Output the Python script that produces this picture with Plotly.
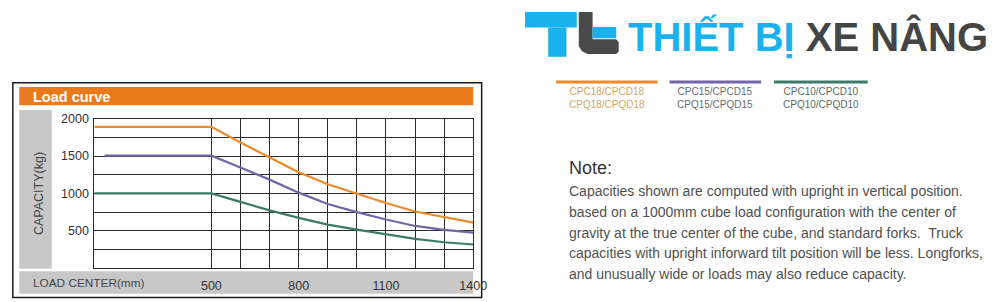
import plotly.graph_objects as go

W, H = 999, 302

# ---------------- data ----------------
load_center_mm = [98, 500, 600, 700, 800, 900, 1000, 1100, 1200, 1300, 1400]
cap_cpcd18 = [1890, 1890, 1680, 1477, 1282, 1122, 997, 871, 758, 682, 609]
load_center_15 = [133, 500, 600, 700, 800, 900, 1000, 1100, 1200, 1300, 1400]
cap_cpcd15 = [1505, 1505, 1346, 1184, 1010, 858, 749, 650, 564, 512, 476]
cap_cpcd10 = [1000, 1000, 887, 772, 672, 582, 516, 452, 390, 346, 316]

series_names = ["CPC18/CPCD18<br>CPQ18/CPQD18",
                "CPC15/CPCD15<br>CPQ15/CPQD15",
                "CPC10/CPCD10<br>CPQ10/CPQD10"]
series_colors = ["#EE8A2A", "#7464A8", "#3C7A69"]
legend_text_colors = ["#D6A566", "#6A6A78", "#5A6A66"]

x_grid = [500, 600, 700, 800, 900, 1000, 1100, 1200, 1300, 1400]
x_labels = ["500", "", "", "800", "", "", "1100", "", "", "1400"]
y_grid = [250, 500, 750, 1000, 1250, 1500, 1750, 2000]
y_labels = ["", "500", "", "1000", "", "1500", "", "2000"]

note_title = "Note:"
note_lines = [
    "Capacities shown are computed with upright in vertical position.",
    "based on a 1000mm cube load configuration with the center of",
    "gravity at the true center of the cube, and standard forks.  Truck",
    "capacities with upright inforward tilt position will be less. Longforks,",
    "and unusually wide or loads may also reduce capacity.",
]

FONT = "Liberation Sans"


def px(x):
    return x / W


def py(y):
    return 1 - y / H


fig = go.Figure()
xs = [load_center_mm, load_center_15, load_center_mm]
ys = [cap_cpcd18, cap_cpcd15, cap_cpcd10]
for xv, yv, c, n in zip(xs, ys, series_colors, series_names):
    fig.add_trace(go.Scatter(x=xv, y=yv, mode="lines", line=dict(color=c, width=2.2),
                             name=n, showlegend=False, hoverinfo="skip"))

shapes = []
annotations = []


def rect(x0, y0, x1, y1, fill=None, line=None, lw=0, layer="below"):
    shapes.append(dict(type="rect", xref="paper", yref="paper",
                       x0=px(x0), x1=px(x1), y0=py(y1), y1=py(y0),
                       fillcolor=fill if fill else "rgba(0,0,0,0)",
                       line=dict(color=line if line else "rgba(0,0,0,0)", width=lw),
                       layer=layer))


def poly(points, fill):
    d = "M " + " L ".join(f"{px(x):.5f},{py(y):.5f}" for x, y in points) + " Z"
    shapes.append(dict(type="path", xref="paper", yref="paper", path=d,
                       fillcolor=fill, line=dict(width=0), layer="below"))


def text(x, y, s, size, color, xanchor="left", bold=False, angle=0, family=FONT):
    if bold:
        s = "<b>" + s + "</b>"
    annotations.append(dict(xref="paper", yref="paper", x=px(x), y=py(y), text=s,
                            showarrow=False, xanchor=xanchor, yanchor="middle",
                            textangle=angle, font=dict(size=size, color=color, family=family),
                            align="center"))


# chart panel decorations
rect(13, 77.5, 488.5, 297.5, line="#1a1a1a", lw=1.5)
rect(19.5, 82, 480, 100.5, fill="#E97B1C")
rect(19.5, 105.5, 52.5, 268, fill="#C8C8C8")
rect(19.5, 270.5, 480, 293.5, fill="#C8C8C8")

text(31, 92, "Load curve", 14.5, "#FFFFFF", bold=True)
text(39, 191, "CAPACITY(kg)", 12.5, "#444444", xanchor="center", angle=-90)
text(31, 282.5, "LOAD CENTER(mm)", 11.8, "#444444")

# logo
rect(532.5, 5, 585, 21, fill="#1AB2EE")
rect(556, 21, 574.5, 51, fill="#1AB2EE")
poly([(587, 5), (601, 5), (601, 33), (625, 33), (627.5, 36), (627.5, 45.5), (625, 48),
      (596, 48), (590, 45), (587, 40)], "#4A4A4A")
rect(601, 20.5, 625, 32, fill="#1AB2EE")
text(635, 30.5, "<span style='color:#1AB2EE'>THIẾT BỊ</span> <span style='color:#454545'>XE NÂNG</span>",
     40, "#454545", bold=True)

# legend
legend_x = [(564, 667), (679, 772), (785, 880)]
for (x0, x1), c, tc, n in zip(legend_x, series_colors, legend_text_colors, series_names):
    shapes.append(dict(type="line", xref="paper", yref="paper", x0=px(x0), x1=px(x1),
                       y0=py(76.7), y1=py(76.7), line=dict(color=c, width=3)))
    annotations.append(dict(xref="paper", yref="paper", x=px((x0 + x1) / 2), y=py(93.5),
                            text=n, showarrow=False, xanchor="center", yanchor="middle",
                            align="center", font=dict(size=10, color=tc, family=FONT)))

# note
text(575, 165, note_title, 18, "#333333")
for i, line in enumerate(note_lines):
    text(575, 188.5 + 21.2 * i, line, 14, "#505050")

fig.update_layout(
    width=W, height=H, margin=dict(l=0, r=0, t=0, b=0),
    paper_bgcolor="white", plot_bgcolor="white",
    shapes=shapes, annotations=annotations,
    xaxis=dict(domain=[px(95.7), px(480)], range=[98, 1400],
               tickvals=x_grid, ticktext=x_labels, showgrid=True, gridcolor="#2a2a2a",
               gridwidth=1, showline=True, linecolor="#2a2a2a", linewidth=1, mirror=True,
               ticks="", ticklabelstandoff=6, zeroline=False,
               tickfont=dict(size=12.5, color="#333333", family=FONT)),
    yaxis=dict(domain=[py(267.3), py(114.3)], range=[0, 2000],
               tickvals=y_grid, ticktext=y_labels, showgrid=True, gridcolor="#2a2a2a",
               gridwidth=1, showline=True, linecolor="#2a2a2a", linewidth=1, mirror=True,
               ticks="", ticklabelstandoff=2, zeroline=False,
               tickfont=dict(size=12.5, color="#333333", family=FONT)),
)

fig.write_html("out.html")
